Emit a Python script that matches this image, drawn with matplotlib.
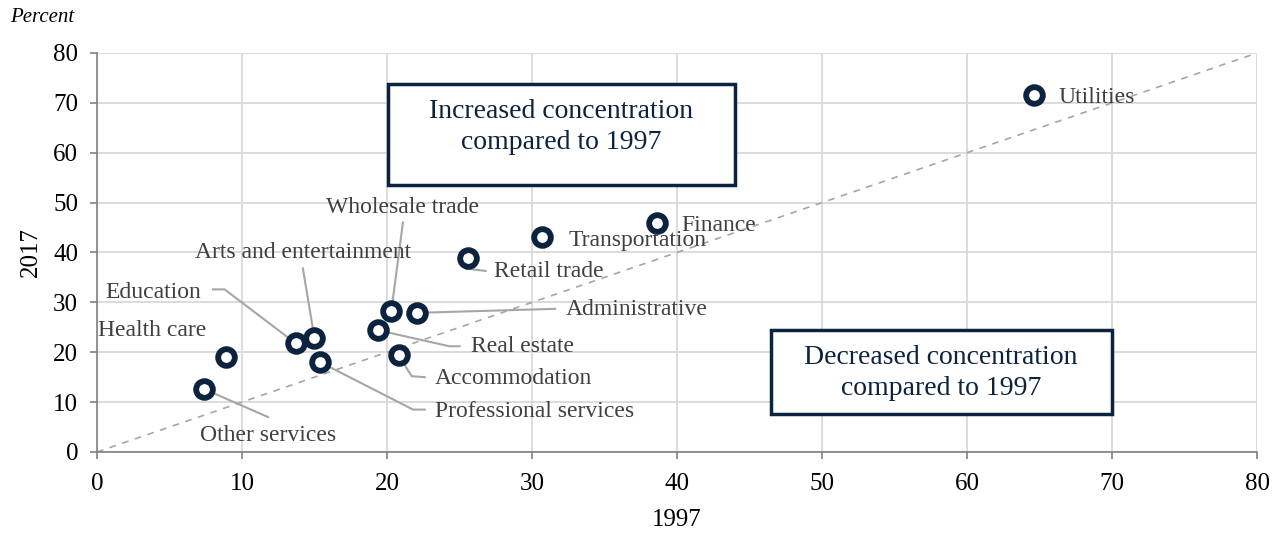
import matplotlib.pyplot as plt
from matplotlib.patches import Rectangle

plt.rcParams['font.family'] = ['Liberation Serif', 'DejaVu Serif']

industries = ['Other services', 'Health care', 'Education', 'Arts and entertainment',
              'Professional services', 'Real estate', 'Wholesale trade', 'Administrative',
              'Accommodation', 'Retail trade', 'Transportation', 'Finance', 'Utilities']
share_1997 = [7.4, 8.9, 13.7, 15.0, 15.4, 19.4, 20.3, 22.1, 20.8, 25.6, 30.7, 38.6, 64.6]
share_2017 = [12.6, 19.0, 21.8, 22.8, 18.0, 24.4, 28.3, 27.9, 19.4, 38.9, 43.1, 45.9, 71.5]

# label position (data coords), alignment, leader line path (None = no line)
label_pos = {
    'Other services': (11.8, 3.4, 'center', [(11.8, 7.0)]),
    'Health care': (0.1, 24.4, 'left', None),
    'Education': (0.6, 32.0, 'left', [(8.0, 32.6), (8.8, 32.6)]),
    'Arts and entertainment': (14.2, 40.0, 'center', [(14.2, 36.8)]),
    'Professional services': (23.3, 8.1, 'left', [(22.6, 8.5), (21.8, 8.5)]),
    'Real estate': (25.8, 21.2, 'left', [(25.0, 21.2), (24.3, 21.2)]),
    'Wholesale trade': (21.1, 49.0, 'center', [(21.1, 46.0)]),
    'Administrative': (32.3, 28.6, 'left', [(31.6, 28.7)]),
    'Accommodation': (23.3, 14.8, 'left', [(22.6, 15.0), (21.7, 15.2)]),
    'Retail trade': (27.4, 36.1, 'left', [(26.8, 36.3), (25.4, 36.8)]),
    'Transportation': (32.5, 42.5, 'left', None),
    'Finance': (40.3, 45.4, 'left', None),
    'Utilities': (66.3, 71.1, 'left', None),
}

navy = '#0c2340'
fig = plt.figure(figsize=(12.81, 5.33), dpi=100)
ax = fig.add_axes([0.0757, 0.152, 0.9056, 0.7486])

ax.plot([0, 80], [0, 80], ls=(0, (4, 4)), color='#a6a6a6', lw=1.2, zorder=2)

for name, x, y in zip(industries, share_1997, share_2017):
    lx, ly, ha, path = label_pos[name]
    if path is not None:
        pts = [(x, y)] + path[::-1]
        ax.plot([p[0] for p in pts], [p[1] for p in pts], color='#a6a6a6', lw=1.5, zorder=3)
    ax.text(lx, ly, name, ha=ha, va='center', fontsize=17, color='#404040', zorder=5)

ax.plot(share_1997, share_2017, 'o', ms=12, mfc='white', mec=navy, mew=4.2, zorder=4, ls='none')

# annotation boxes
ax.add_patch(Rectangle((20.1, 53.5), 23.9, 20.2, fc='white', ec=navy, lw=2.5, zorder=6))
ax.text(32.0, 65.1, 'Increased concentration\ncompared to 1997', ha='center', va='center',
        fontsize=20, color=navy, linespacing=1.3, zorder=7)
ax.add_patch(Rectangle((46.5, 7.6), 23.5, 16.8, fc='white', ec=navy, lw=2.5, zorder=6))
ax.text(58.2, 15.8, 'Decreased concentration\ncompared to 1997', ha='center', va='center',
        fontsize=20, color=navy, linespacing=1.3, zorder=7)

ax.set_xlim(0, 80)
ax.set_ylim(0, 80)
ax.set_xticks(range(0, 81, 10))
ax.set_yticks(range(0, 81, 10))
ax.grid(True, color='#d9d9d9', lw=1.3, zorder=0)
ax.set_axisbelow(True)
for s in ['top', 'right']:
    ax.spines[s].set_visible(False)
for s in ['left', 'bottom']:
    ax.spines[s].set_color('#808080')
    ax.spines[s].set_linewidth(1.2)
ax.tick_params(colors='#808080', labelcolor='black', labelsize=18, length=5, width=1.2)
ax.tick_params(axis='x', pad=10)
ax.tick_params(axis='y', pad=8.5)
ax.set_xlabel('1997', fontsize=18, labelpad=10)
ax.set_ylabel('2017', fontsize=18, labelpad=8)
fig.text(0.008, 0.968, 'Percent', fontsize=15, style='italic', va='center')

fig.savefig('out.png', dpi=100)
